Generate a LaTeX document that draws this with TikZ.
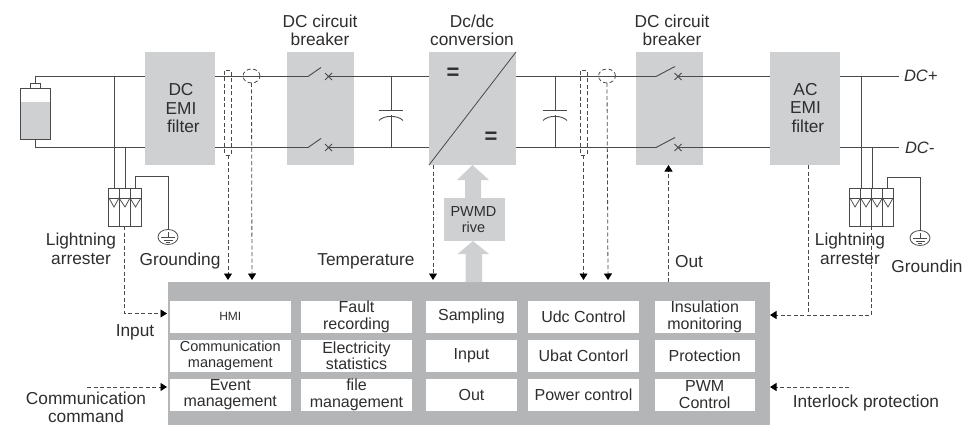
\documentclass[tikz,border=0pt]{standalone}
\usepackage{fontspec}
\setmainfont{Liberation Sans}
\usetikzlibrary{arrows.meta,positioning,calc,shapes.geometric}
\definecolor{blk}{HTML}{CFD0D2}
\definecolor{ctl}{HTML}{B4B5B7}
\definecolor{wire}{HTML}{4A4A4A}
\definecolor{txt}{HTML}{2E2E2E}
\tikzset{
 x=1pt,y=-1pt,
 every node/.style={inner sep=0pt,outer sep=0pt,text=txt,align=center},
 blockbox/.style={fill=blk,draw=none,anchor=north west},
 cell/.style={fill=white,draw=none,anchor=north west},
 lab/.style={font=\fontsize{17.3}{18.5}\selectfont},
 wireline/.style={draw=wire,line width=0.9pt},
 thinwire/.style={draw=wire,line width=0.75pt},
 sense/.style={draw=wire,line width=0.8pt,dash pattern=on 4pt off 2.5pt},
 sensearrow/.style={sense,-{Triangle[length=6.5pt,width=8pt,color=black,fill=black]}},
}
\begin{document}
\begin{tikzpicture}
\useasboundingbox (0,0) rectangle (963,425);
% blocks
\node[blockbox,minimum width=70,minimum height=113] (dcemi) at (145,52) {};
\node[blockbox,minimum width=67,minimum height=113] (brkA) at (287,52) {};
\node[blockbox,minimum width=87,minimum height=113] (conv) at (429,52) {};
\node[blockbox,minimum width=67,minimum height=113] (brkB) at (636,52) {};
\node[blockbox,minimum width=70,minimum height=113] (acemi) at (770,52) {};
\node[fill=ctl,anchor=north west,minimum width=602,minimum height=143] (ctrl) at (167.5,282) {};
\node[blockbox,minimum width=61,minimum height=43] (pwm) at (443.5,198) {};
% block text
\node[lab] at (181,108.5) {DC\\EMI\\\ filter};
\node[lab] at (805.5,108) {AC\\EMI\\\ filter};
\node[font=\fontsize{14.5}{15.5}\selectfont] at (473.5,219.5) {PWMD\\rive};
% block arrows
\fill[blk] (465,198) -- (465,180) -- (457,180) -- (472.5,165) -- (489,180) -- (481,180) -- (481,198) -- cycle;
\fill[blk] (465.5,282) -- (465.5,254) -- (457.5,254) -- (473,241) -- (489,254) -- (482,254) -- (482,282) -- cycle;
% conv
\draw[draw=wire,line width=0.8pt] (conv.south west) -- (conv.north east);
\node[font=\bfseries\fontsize{22}{22}\selectfont] at (453,73.5) {=};
\node[font=\bfseries\fontsize{22}{22}\selectfont] at (491,137.5) {=};
% battery
\node[draw=wire,line width=0.8pt,anchor=north west,minimum width=30,minimum height=51,fill=white] (batt) at (20,88.5) {};
\fill[blk] (20.5,102) rectangle (49.5,139);
\node[draw=wire,line width=0.8pt,anchor=north west,minimum width=10,minimum height=5] (cap) at (30,83.5) {};
% named wire points
\coordinate (t) at (0,76.5);
\coordinate (b) at (0,147.5);
\draw[wireline] (cap.north) -- (35,76.5) -- (dcemi.west |- t);
\draw[wireline] (batt.south -| cap.north) -- (35,147.5) -- (dcemi.west |- b);
% switches
\foreach \yy in {76.5,147.5}{
 \draw[wireline] (dcemi.east |- 0,\yy) -- (308,\yy) -- (321,{\yy-9});
 \draw[thinwire] (325,{\yy-3.5}) -- (332,{\yy+3.5}) (325,{\yy+3.5}) -- (332,{\yy-3.5});
 \draw[wireline] (328.5,\yy) -- (conv.west |- 0,\yy);
 \draw[wireline] (conv.east |- 0,\yy) -- (656,\yy) -- (675,{\yy-10});
 \draw[thinwire] (674.5,{\yy-3.5}) -- (681.5,{\yy+3.5}) (674.5,{\yy+3.5}) -- (681.5,{\yy-3.5});
 \draw[wireline] (678,\yy) -- (acemi.west |- 0,\yy);
 \draw[wireline] (acemi.east |- 0,\yy) -- (899,\yy);
 \draw[draw=wire,line width=1.3pt] (571,\yy) -- (592,\yy);
}
\node[font=\itshape\fontsize{16.5}{18}\selectfont,anchor=west] at (904,76) {DC+};
\node[font=\itshape\fontsize{16.5}{18}\selectfont,anchor=west] at (905,148) {DC-};
% capacitors
\foreach \cx in {391,555}{
 \draw[wireline] (\cx,76.5) -- (\cx,110);
 \draw[wireline] (\cx,115) -- (\cx,147.5);
 \draw[wireline] ({\cx-12},110) -- ({\cx+12},110);
 \draw[wireline] ({\cx-12},120.5) .. controls ({\cx-7},115) and ({\cx+7},115) .. ({\cx+12},120.5);
}
% left arrester
\node[draw=wire,line width=0.8pt,anchor=north west,minimum width=33,minimum height=38] (arrL) at (108,188) {};
\draw[wireline] (114,76.5) -- (114,188);
\draw[wireline] (125,147.5) -- (125,188);
\draw[thinwire] (119,188) -- (119,226) (130,188) -- (130,226) (108,198) -- (141,198);
\draw[thinwire] (109,198) -- (114,207) -- (119,198) -- (125,207) -- (130,198) -- (135.5,207) -- (141,198);
\node[draw=wire,line width=0.8pt,ellipse,minimum width=20,minimum height=15] (gndL) at (168,237) {};
\draw[wireline] (135,188) -- (135,176.5) -- (168,176.5) -- (gndL.north);
\draw[thinwire] (161,237) -- (175,237) (163.5,240) -- (172.5,240) (166,242.5) -- (170,242.5) (168,232) -- (168,237);
% right arrester
\node[draw=wire,line width=0.8pt,anchor=north west,minimum width=44,minimum height=38] (arrR) at (849.5,188) {};
\draw[wireline] (861.5,76.5) -- (861.5,188);
\draw[wireline] (872.5,147.5) -- (872.5,188);
\draw[thinwire] (860.5,188) -- (860.5,226) (871.5,188) -- (871.5,226) (882.5,188) -- (882.5,226) (849.5,198) -- (893.5,198);
\draw[thinwire] (850,198) -- (855,207) -- (860.5,198) -- (866,207) -- (871.5,198) -- (877,207) -- (882.5,198) -- (888,207) -- (893,198);
\node[draw=wire,line width=0.8pt,ellipse,minimum width=20,minimum height=15] (gndR) at (920,238) {};
\draw[wireline] (887.5,188) -- (887.5,177) -- (920,177) -- (gndR.north);
\draw[thinwire] (913,238) -- (927,238) (915.5,241) -- (924.5,241) (918,243.5) -- (922,243.5) (920,233) -- (920,238);
% current sensors
\foreach \nm/\sx/\cx in {A/224.5/251.5,B/580/607}{
 \draw[sense,rounded corners=1pt] (\sx,70) rectangle ({\sx+7},155);
 \node[sense,ellipse,minimum width=17,minimum height=14] (ring\nm) at (\cx,76) {};
}
\coordinate (inA) at (228,280);
\coordinate (inB) at (252,280);
\coordinate (inC) at (433,280);
\coordinate (inD) at (583.5,280);
\coordinate (inE) at (608,280);
\draw[sensearrow] (228,155) -- (inA);
\draw[sensearrow] (ringA.south) -- (inB);
\draw[sensearrow] (433,165) -- (inC);
\draw[sensearrow] (583.5,155) -- (inD);
\draw[sensearrow] (ringB.south) -- (inE);
\draw[sensearrow] (ctrl.north -| 668.5,0) -- (brkB.south -| 668.5,0);
\coordinate (lin) at (124.5,313.5);
\draw[sensearrow] (124.5,226) -- (lin) -- (167,313.5);
\coordinate (rin) at (871,315);
\draw[sensearrow] (871,226) -- (rin) -- (770,315);
\draw[sense] (acemi.south -| 808,0) -- (808,315);
\coordinate (cmd) at (87,387);
\coordinate (lock) at (849,387);
\draw[sensearrow] (cmd) -- (167,387);
\draw[sensearrow] (lock) -- (770,387);
% cells
\foreach \nm/\ya/\xa/\xb/\fs/\tx in {
 a/301/170/290.5/12/HMI,
 b/301/301/412/16/{Fault\\recording},
 c/301/426/517/16/Sampling,
 d/301/528/639/16/Udc Control,
 e/301/655/754.5/16/{Insulation\\monitoring},
 f/340/170/290.5/14.5/{Communication\\management},
 g/340/301/412/16/{Electricity\\statistics},
 h/340/426/517/16/Input,
 i/340/528/639/16/Ubat Contorl,
 j/340/655/754.5/16/Protection,
 k/379/170/290.5/16/{Event\\management},
 l/379/301/412/16/{file\\management},
 m/379/426/517/16/Out,
 n/379/528/639/16/Power control,
 o/379/655/754.5/16/{PWM\\Control}}{
 \pgfmathsetmacro{\ww}{\xb-\xa}
 \node[cell,minimum width=\ww pt,minimum height=31.5pt,font=\fontsize{\fs}{16.5}\selectfont] (\nm) at (\xa,\ya) {\tx};
}
% labels
\node[lab] at (320,30.5) {DC circuit\\breaker};
\node[lab] at (472,30.5) {Dc/dc\\conversion};
\node[lab] at (672,30.5) {DC circuit\\breaker};
\node[lab] at (81,249) {Lightning\\arrester};
\node[lab] at (180,261.5) {Grounding};
\node[lab] at (366,261.5) {Temperature};
\node[lab] at (689,262) {Out};
\node[lab] at (850,249) {Lightning\\arrester};
\node[lab] at (927,266) {Groundin};
\node[lab] at (135,332) {Input};
\node[lab] at (86,407.5) {Communication\\command};
\node[lab] at (866,403) {Interlock protection};
\end{tikzpicture}
\end{document}
